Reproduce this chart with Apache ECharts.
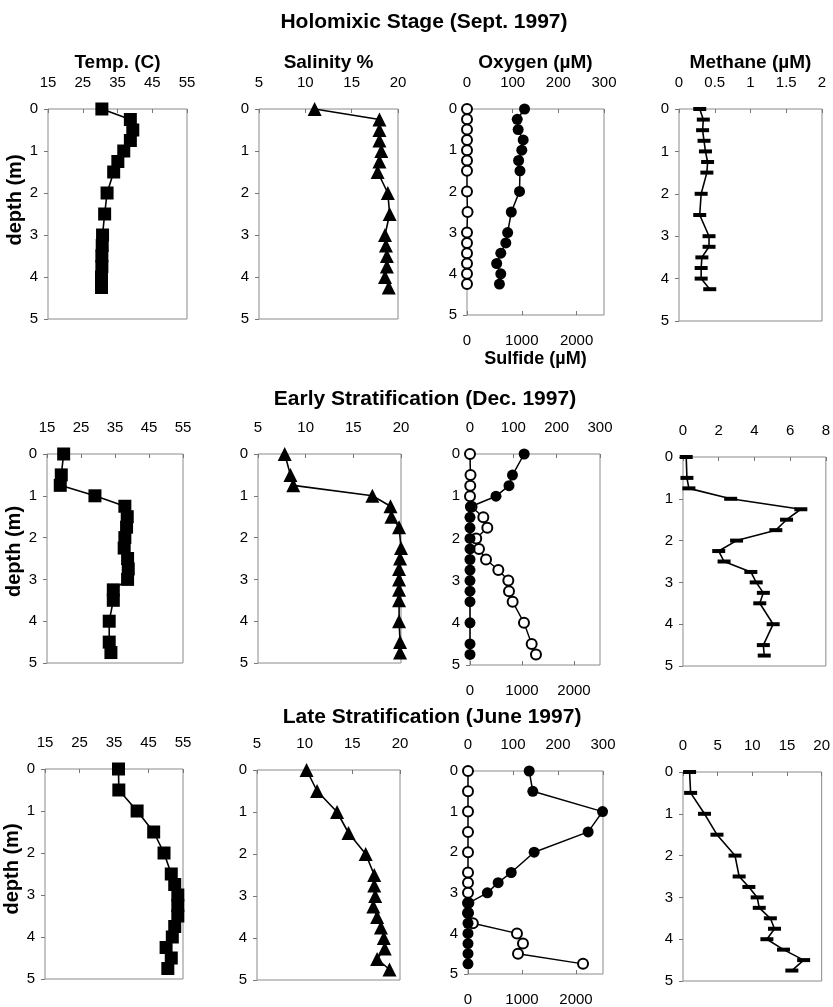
<!DOCTYPE html>
<html><head><meta charset="utf-8">
<script src="https://cdn.jsdelivr.net/npm/echarts@6/dist/echarts.min.js"></script>
<style>html,body{margin:0;padding:0;background:#fff}#c{width:833px;height:1007px}</style>
</head><body><div id="c"></div>
<script>
// ---------------- DATA ----------------
const rowTitles = ['Holomixic Stage (Sept. 1997)', 'Early Stratification (Dec. 1997)', 'Late Stratification (June 1997)'];
const panelNames = ['Temp. (C)', 'Salinity %', 'Oxygen (\u00b5M)', 'Methane (\u00b5M)'];
const sulfideName = 'Sulfide (\u00b5M)';
const depthName = 'depth (m)';

// Row 1 - Holomixic Stage (Sept. 1997)
const r1Depth   = [0, 0.25, 0.5, 0.75, 1, 1.25, 1.5, 2, 2.5, 3, 3.25, 3.5, 3.75, 4, 4.25];
const r1Temp    = [30.5, 38.7, 39.4, 38.7, 36.8, 35.1, 33.9, 32.0, 31.3, 30.7, 30.6, 30.5, 30.5, 30.4, 30.4];
const r1Sal     = [11.0, 18.0, 18.0, 18.0, 18.2, 18.0, 17.8, 18.9, 19.1, 18.6, 18.7, 18.8, 18.8, 18.6, 19.0];
const r1Oxy     = [126, 110, 112, 123, 120, 113, 116, 115, 97, 89, 85, 74, 65, 74, 71];
const r1Sulf    = [0, 0, 0, 0, 0, 0, 0, 0, 10, 0, 0, 0, 0, 0, 0];
const r1Meth    = [0.29, 0.34, 0.33, 0.35, 0.37, 0.40, 0.39, 0.31, 0.29, 0.42, 0.42, 0.32, 0.31, 0.31, 0.43];

// Row 2 - Early Stratification (Dec. 1997)
const r2TempDepth = [0, 0.5, 0.75, 1, 1.25, 1.5, 1.75, 2, 2.25, 2.5, 2.75, 3, 3.25, 3.5, 4, 4.5, 4.75];
const r2Temp      = [19.9, 19.2, 18.9, 29.1, 37.9, 38.6, 38.4, 37.9, 37.7, 38.7, 38.9, 38.7, 34.5, 34.5, 33.3, 33.3, 33.8];
const r2SalDepth  = [0, 0.5, 0.75, 1, 1.25, 1.5, 1.75, 2.25, 2.5, 2.75, 3, 3.25, 3.5, 4, 4.5, 4.75];
const r2Sal       = [7.8, 8.4, 8.7, 17.0, 18.9, 19.0, 19.8, 20.0, 19.9, 19.8, 19.8, 19.8, 19.8, 19.8, 19.9, 19.9];
const r2Depth     = [0, 0.5, 0.75, 1, 1.25, 1.5, 1.75, 2, 2.25, 2.5, 2.75, 3, 3.25, 3.5, 4, 4.5, 4.75];
const r2Oxy       = [125, 98, 90, 60, 1, 0, 0, 0, 0, 0, 0, 0, 0, 0, 0, 0, 0];
const r2Sulf      = [0, 10, 5, 0, 30, 256, 333, 120, 173, 308, 545, 737, 750, 820, 1038, 1186, 1269];
const r2Meth      = [0.18, 0.22, 0.33, 2.67, 6.6, 5.8, 5.2, 3.0, 2.0, 2.3, 3.8, 4.1, 4.5, 4.3, 5.05, 4.5, 4.55];

// Row 3 - Late Stratification (June 1997)
const r3Depth   = [0, 0.5, 1, 1.5, 2, 2.5, 2.75, 3, 3.25, 3.5, 3.75, 4, 4.25, 4.5, 4.75];
const r3Temp    = [36.3, 36.4, 41.7, 46.5, 49.5, 51.6, 52.6, 53.5, 53.5, 53.5, 52.6, 51.9, 50.1, 51.6, 50.6];
const r3Sal     = [10.2, 11.3, 13.4, 14.6, 16.4, 17.3, 17.3, 17.4, 17.2, 17.6, 18.0, 18.3, 18.4, 17.6, 18.9];
const r3Oxy     = [136, 144, 299, 267, 147, 96, 67, 43, 2, 0, 0, 0, 0, 0, 0];
const r3Sulf    = [0, 0, 0, 0, 0, 0, 0, 0, 0, 0, 90, 907, 1018, 926, 2130];
const r3Meth    = [0.95, 1.1, 3.1, 4.9, 7.5, 8.1, 9.5, 10.7, 11.0, 12.6, 13.2, 12.1, 14.5, 17.4, 15.7];

// Axis scales
const depthAxis   = {min: 0, max: 5, interval: 1};
const tempAxis    = {min: 15, max: 55, interval: 10};
const salAxis     = {min: 5, max: 20, interval: 5};
const oxyAxis     = {min: 0, max: 300, interval: 100};
const sulfAxis    = {min: 0, max: 2500, interval: 1000};
const methAxes    = [{min: 0, max: 2, interval: 0.5}, {min: 0, max: 8, interval: 2}, {min: 0, max: 20, interval: 5}];

// ---------------- LAYOUT ----------------
const boxes = [
  [[48,109,187,319],[259,109,398,319],[467,109,604,315],[679,109,822,321]],
  [[47,454,183,663],[258,454,401,663],[470,454,600,665],[683,457,828,666]],
  [[45,769,183,979],[257,770,400,980],[468,771,603,975],[683,772,823,981]]
];
const titleY = [22, 399, 717];
const titleX = [424, 425, 432];
const depthNameShift = [28, 14, 10];

const FONT = '"Liberation Sans", Arial, sans-serif';
const rows = [
  {temp:[r1Depth,r1Temp], sal:[r1Depth,r1Sal], oxy:[r1Depth,r1Oxy], sulf:[r1Depth,r1Sulf], meth:[r1Depth,r1Meth]},
  {temp:[r2TempDepth,r2Temp], sal:[r2SalDepth,r2Sal], oxy:[r2Depth,r2Oxy], sulf:[r2Depth,r2Sulf], meth:[r2Depth,r2Meth]},
  {temp:[r3Depth,r3Temp], sal:[r3Depth,r3Sal], oxy:[r3Depth,r3Oxy], sulf:[r3Depth,r3Sulf], meth:[r3Depth,r3Meth]}
];
const pairs = (d, v) => v.map((x, i) => [x, d[i]]);

const grid = [], xAxis = [], yAxis = [], series = [];
const lbl = {fontFamily: FONT, fontSize: 15, color: '#000'};
const plainNum = v => String(v);

rows.forEach((row, r) => {
  const specs = [tempAxis, salAxis, oxyAxis, methAxes[r]];
  const keys = ['temp', 'sal', 'oxy', 'meth'];
  for (let c = 0; c < 4; c++) {
    const [l, t, rr, b] = boxes[r][c];
    const gi = grid.length;
    grid.push({left: l, top: t, width: rr - l, height: b - t, show: true,
      borderColor: '#8a8a8a', borderWidth: 1, backgroundColor: 'transparent'});
    const xi = xAxis.length;
    xAxis.push(Object.assign({type: 'value', gridIndex: gi, position: 'top',
      name: r === 0 ? panelNames[c] : '', nameLocation: 'middle', nameGap: 37,
      nameTextStyle: {fontFamily: FONT, fontSize: 19, fontWeight: 'bold', color: '#000'},
      axisLine: {show: false}, splitLine: {show: false},
      axisTick: {show: true, inside: true, length: 4, lineStyle: {color: '#777'}},
      axisLabel: Object.assign({margin: 19, formatter: plainNum}, lbl)}, specs[c]));
    const yi = yAxis.length;
    yAxis.push(Object.assign({type: 'value', gridIndex: gi, inverse: true,
      name: c === 0 ? depthName : '', nameLocation: 'middle', nameGap: 15,
      nameTextStyle: {fontFamily: FONT, fontSize: 20, fontWeight: 'bold', color: '#000',
        padding: [0, 0, 0, depthNameShift[r]]},
      axisLine: {show: false}, splitLine: {show: false},
      axisTick: {show: true, inside: false, length: 4, lineStyle: {color: '#777'}},
      axisLabel: Object.assign({margin: 10}, lbl)}, depthAxis));

    if (keys[c] === 'oxy') {
      const si = xAxis.length;
      xAxis.push(Object.assign({type: 'value', gridIndex: gi, position: 'bottom',
        name: r === 0 ? sulfideName : '', nameLocation: 'middle', nameGap: 35,
        nameTextStyle: {fontFamily: FONT, fontSize: 18, fontWeight: 'bold', color: '#000'},
        axisLine: {show: false}, splitLine: {show: false},
        axisTick: {show: true, inside: true, length: 4, lineStyle: {color: '#777'}},
        axisLabel: Object.assign({margin: 18, showMaxLabel: false, formatter: plainNum}, lbl)}, sulfAxis));
      series.push({type: 'line', xAxisIndex: si, yAxisIndex: yi, data: pairs(row.sulf[0], row.sulf[1]),
        symbol: 'emptyCircle', symbolSize: 10, showSymbol: true,
        lineStyle: {color: '#000', width: 1.4}, itemStyle: {color: '#000', borderWidth: 1.3},
        animation: false, z: 2});
      series.push({type: 'line', xAxisIndex: xi, yAxisIndex: yi, data: pairs(row.oxy[0], row.oxy[1]),
        symbol: 'circle', symbolSize: 11,
        lineStyle: {color: '#000', width: 1.5}, itemStyle: {color: '#000'},
        animation: false, z: 3});
    } else {
      const sym = {temp: ['rect', 13], sal: ['triangle', 14], meth: ['rect', [13, 4]]}[keys[c]];
      series.push({type: 'line', xAxisIndex: xi, yAxisIndex: yi, data: pairs(row[keys[c]][0], row[keys[c]][1]),
        symbol: sym[0], symbolSize: sym[1],
        lineStyle: {color: '#000', width: 1.6}, itemStyle: {color: '#000'},
        animation: false, z: 3});
    }
  }
});

const graphic = rowTitles.map((t, i) => ({type: 'text', x: titleX[i], y: titleY[i],
  style: {text: t, textAlign: 'center', textVerticalAlign: 'middle',
    font: 'bold 21px ' + FONT, fill: '#000'}}));

const chart = echarts.init(document.getElementById('c'), null, {renderer: 'canvas'});
chart.setOption({animation: false, backgroundColor: '#fff', grid, xAxis, yAxis, series, graphic});
</script>
</body></html>
